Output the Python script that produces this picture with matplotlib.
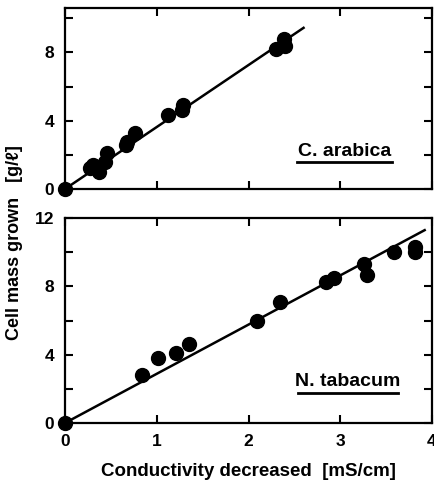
import matplotlib
matplotlib.use("Agg")
import matplotlib.pyplot as plt
import numpy as np

plt.rcParams['font.family'] = ['Liberation Sans', 'DejaVu Sans']
plt.rcParams['font.weight'] = 'bold'

# C. arabica data
ca_x = [0.0, 0.27, 0.31, 0.375, 0.44, 0.455, 0.67, 0.68, 0.765, 1.12, 1.27, 1.29, 2.30, 2.40, 2.39]
ca_y = [0.0, 1.22, 1.41, 1.02, 1.61, 2.10, 2.59, 2.78, 3.27, 4.35, 4.65, 4.94, 8.18, 8.37, 8.76]
ca_line_x = [0.0, 2.60]
ca_slope = 3.63

# N. tabacum data
nt_x = [0.0, 0.84, 1.01, 1.21, 1.35, 2.09, 2.34, 2.84, 2.93, 3.26, 3.29, 3.59, 3.81, 3.81]
nt_y = [0.0, 2.81, 3.78, 4.11, 4.62, 5.96, 7.09, 8.26, 8.46, 9.30, 8.65, 10.02, 10.30, 10.00]
nt_line_x = [0.0, 3.92]
nt_slope = 2.88

xticks = [0, 1, 2, 3, 4]
ca_yticks = [0, 2, 4, 6, 8, 10]
ca_yticklabels = ['0', '', '4', '', '8', '']
nt_yticks = [0, 2, 4, 6, 8, 10, 12]
nt_yticklabels = ['0', '', '4', '', '8', '', '12']

W, H = 434, 488
fig = plt.figure(figsize=(W / 100, H / 100), dpi=100)

def fx(px):
    return px / W

def fy(py):
    return 1 - py / H

ax1 = fig.add_axes([fx(65), fy(189), fx(432) - fx(65), fy(8) - fy(189)])
ax2 = fig.add_axes([fx(65), fy(423), fx(432) - fx(65), fy(218) - fy(423)])

def style(ax, yticks, ylabels, ylim, show_x):
    ax.set_xlim(0, 4)
    ax.set_ylim(*ylim)
    ax.set_xticks(xticks)
    ax.set_yticks(yticks)
    ax.set_yticklabels(ylabels)
    if show_x:
        ax.set_xticklabels([str(t) for t in xticks])
    else:
        ax.set_xticklabels([])
    ax.tick_params(direction='in', length=6, width=1.5, top=True, right=True,
                   labelsize=12.5, pad=8)
    for s in ax.spines.values():
        s.set_linewidth(1.6)
    for lab in ax.get_xticklabels() + ax.get_yticklabels():
        lab.set_fontweight('bold')

style(ax1, ca_yticks, ca_yticklabels, (0, 10.6), False)
style(ax2, nt_yticks, nt_yticklabels, (0, 12), True)

lx = np.array(ca_line_x)
ax1.plot(lx, ca_slope * lx, color='black', lw=1.8, clip_on=False)
ax1.plot(ca_x, ca_y, 'o', color='black', ms=10, clip_on=False, zorder=5)

lx = np.array(nt_line_x)
ax2.plot(lx, nt_slope * lx, color='black', lw=1.8, clip_on=False)
ax2.plot(nt_x, nt_y, 'o', color='black', ms=10, clip_on=False, zorder=5)

def underlined(ax, x0, x1, yt, yl, text):
    ax.text((x0 + x1) / 2, yt, text, transform=ax.transAxes, ha='center', va='center',
            fontsize=14, fontweight='bold')
    ax.plot([x0, x1], [yl, yl], transform=ax.transAxes, color='black', lw=2)

def axfrac(ax, px, py):
    inv = ax.transAxes.inverted()
    return inv.transform((px, H - py))

a = axfrac(ax1, 297, 151); b = axfrac(ax1, 392, 162)
underlined(ax1, a[0], b[0], a[1], b[1], 'C. arabica')
a = axfrac(ax2, 298, 382); b = axfrac(ax2, 398, 393)
underlined(ax2, a[0], b[0], a[1], b[1], 'N. tabacum')

ax2.set_xlabel('Conductivity decreased  [mS/cm]', fontsize=13.5, fontweight='bold', labelpad=10)
fig.text(fx(15), fy(243), 'Cell mass grown   [g/ℓ]', rotation=90, ha='center', va='center',
         fontsize=13, fontweight='bold')

fig.savefig('out.png', dpi=100)
